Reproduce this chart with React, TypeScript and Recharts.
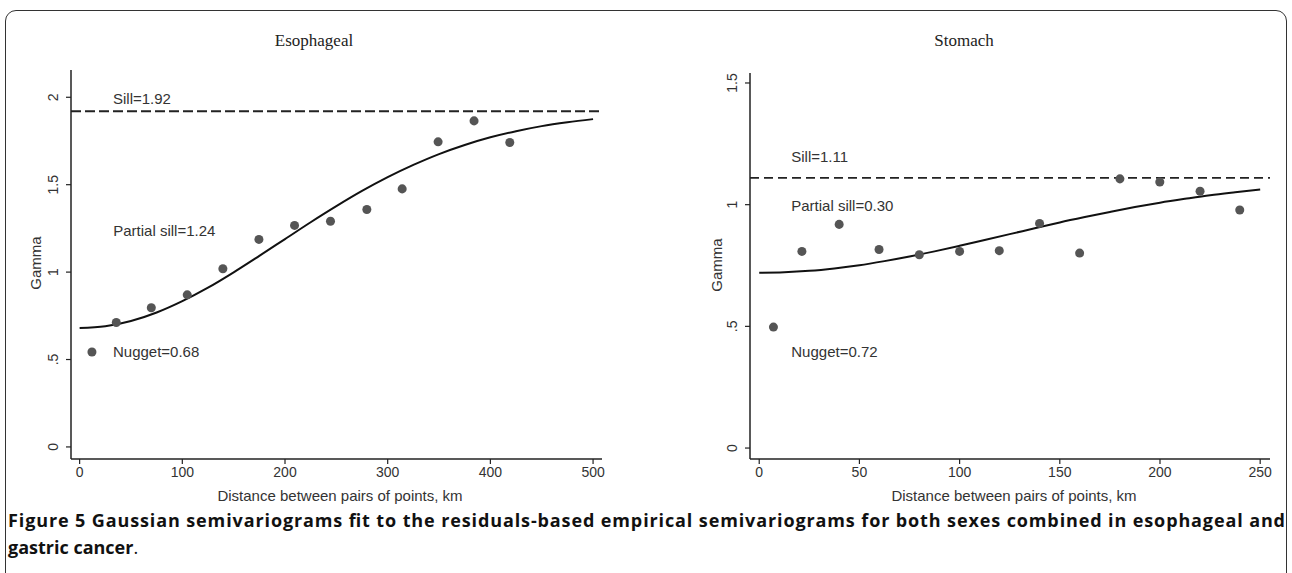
import React from 'react';
import {
  ComposedChart,
  Scatter,
  Line,
  XAxis,
  YAxis,
  ReferenceLine,
  ReferenceDot,
} from 'recharts';

// ---------- data ----------
// Esophageal: empirical semivariogram (lag km, gamma)
const esoLag = [12, 35.7, 69.8, 104.8, 139.5, 174.6, 209.3, 244.3, 279.7, 314.1, 349.1, 384.1, 418.9];
const esoGamma = [0.543, 0.712, 0.796, 0.87, 1.019, 1.187, 1.267, 1.291, 1.358, 1.476, 1.745, 1.865, 1.741];
// Esophageal: fitted Gaussian curve, read at 25 km steps
const esoFitLag = [0, 25, 50, 75, 100, 125, 150, 175, 200, 225, 250, 275, 300, 325, 350, 375, 400, 425, 450, 475, 500];
const esoFitGamma = [0.68, 0.69, 0.72, 0.769, 0.834, 0.911, 0.999, 1.093, 1.189, 1.285, 1.377, 1.464, 1.543, 1.613, 1.675, 1.727, 1.771, 1.806, 1.835, 1.857, 1.875];
const esoSill = 1.92;

// Stomach
const stoLag = [7.1, 21.3, 39.9, 59.8, 79.9, 100, 119.8, 139.9, 159.9, 180, 199.9, 220, 239.8];
const stoGamma = [0.497, 0.808, 0.919, 0.816, 0.794, 0.808, 0.811, 0.923, 0.801, 1.106, 1.093, 1.055, 0.978];
const stoFitLag = [0, 12.5, 25, 37.5, 50, 62.5, 75, 87.5, 100, 112.5, 125, 137.5, 150, 162.5, 175, 187.5, 200, 212.5, 225, 237.5, 250];
const stoFitGamma = [0.72, 0.722, 0.728, 0.738, 0.751, 0.768, 0.787, 0.808, 0.831, 0.855, 0.879, 0.903, 0.927, 0.949, 0.97, 0.99, 1.008, 1.024, 1.039, 1.051, 1.062];
const stoSill = 1.11;

// tick values
const esoXTicks = [0, 100, 200, 300, 400, 500];
const esoYTicks = [0, 0.5, 1, 1.5, 2];
const stoXTicks = [0, 50, 100, 150, 200, 250];
const stoYTicks = [0, 0.5, 1, 1.5];

// annotation texts with their anchor (lag, gamma)
const esoNoteText = ['Sill=1.92', 'Partial sill=1.24', 'Nugget=0.68'];
const esoNoteLag = [31.5, 31.8, 31.5];
const esoNoteGamma = [1.99, 1.236, 0.543];
const stoNoteText = ['Sill=1.11', 'Partial sill=0.30', 'Nugget=0.72'];
const stoNoteLag = [15.5, 15.5, 15.5];
const stoNoteGamma = [1.198, 0.997, 0.395];

const zip = (xs: number[], ys: number[]) => xs.map((h, i) => ({ h, g: ys[i] }));

const SANS = '"Liberation Sans", Arial, sans-serif';
const SERIF = '"Liberation Serif", "Times New Roman", serif';
const TXT = '#333';

const fmtY = (v: number) => (v === 0 ? '0' : v < 1 ? '.5' : String(v));

const YTick = (props: any) => {
  const { x, y, payload } = props;
  return (
    <text
      x={x}
      y={y}
      transform={`rotate(-90 ${x} ${y})`}
      textAnchor="middle"
      fontSize={14}
      fontFamily={SANS}
      fill={TXT}
    >
      {fmtY(payload.value)}
    </text>
  );
};

type PanelProps = {
  pts: { h: number; g: number }[];
  fit: { h: number; g: number }[];
  sill: number;
  xDomain: [number, number];
  yDomain: [number, number];
  xTicks: number[];
  yTicks: number[];
  margin: { top: number; right: number; bottom: number; left: number };
  notes: { text: string; h: number; g: number }[];
  dashWidth: number;
  dash: string;
};

const Panel = (p: PanelProps) => (
  <ComposedChart width={646} height={510} margin={p.margin}>
    <XAxis
      type="number"
      dataKey="h"
      domain={p.xDomain}
      allowDataOverflow
      ticks={p.xTicks}
      tickSize={5}
      tickMargin={3}
      axisLine={{ stroke: '#222', strokeWidth: 1.5 }}
      tickLine={{ stroke: '#222', strokeWidth: 1.2 }}
      tick={{ fontSize: 14, fontFamily: SANS, fill: TXT }}
      height={40}
    />
    <YAxis
      type="number"
      dataKey="g"
      domain={p.yDomain}
      allowDataOverflow
      ticks={p.yTicks}
      tickSize={5}
      tickMargin={8}
      axisLine={{ stroke: '#222', strokeWidth: 1.5 }}
      tickLine={{ stroke: '#222', strokeWidth: 1.2 }}
      tick={<YTick />}
      width={40}
    />
    <ReferenceLine
      y={p.sill}
      stroke="#222"
      strokeWidth={p.dashWidth}
      strokeDasharray={p.dash}
    />
    <Line
      data={p.fit}
      dataKey="g"
      type="monotone"
      stroke="#111"
      strokeWidth={2}
      dot={false}
      isAnimationActive={false}
    />
    <Scatter data={p.pts} dataKey="g" fill="#555" isAnimationActive={false} />
    {p.notes.map((n, i) => (
      <ReferenceDot
        key={i}
        x={n.h}
        y={n.g}
        r={1}
        fill="none"
        stroke="none"
        label={{
          value: n.text,
          position: 'right',
          offset: 0,
          fontSize: 15,
          fontFamily: SANS,
          fill: TXT,
        }}
      />
    ))}
  </ComposedChart>
);

const abs = (x: number, y: number, extra: React.CSSProperties = {}): React.CSSProperties => ({
  position: 'absolute',
  left: x,
  top: y,
  transform: 'translate(-50%, -50%)',
  whiteSpace: 'nowrap',
  color: TXT,
  fontFamily: SANS,
  fontSize: 15,
  lineHeight: 1,
  ...extra,
});

export default function App() {
  const esoPts = zip(esoLag, esoGamma);
  const esoFit = zip(esoFitLag, esoFitGamma);
  const stoPts = zip(stoLag, stoGamma);
  const stoFit = zip(stoFitLag, stoFitGamma);
  const esoNotes = esoNoteText.map((text, i) => ({ text, h: esoNoteLag[i], g: esoNoteGamma[i] }));
  const stoNotes = stoNoteText.map((text, i) => ({ text, h: stoNoteLag[i], g: stoNoteGamma[i] }));

  return (
    <div
      style={{
        position: 'absolute',
        left: 0,
        top: 0,
        width: 1292,
        height: 573,
        overflow: 'hidden',
        background: '#fff',
      }}
    >
      <div
        style={{
          position: 'absolute',
          left: 5,
          top: 10,
          width: 1282,
          height: 620,
          border: '1.6px solid #333',
          borderRadius: 11,
          boxSizing: 'border-box',
        }}
      />
      <div style={{ position: 'absolute', left: 0, top: 0 }}>
        <Panel
          pts={esoPts}
          fit={esoFit}
          sill={esoSill}
          xDomain={[-8.4, 508.7]}
          yDomain={[-0.069, 2.156]}
          xTicks={esoXTicks}
          yTicks={esoYTicks}
          margin={{ top: 70, right: 44, bottom: 11, left: 31 }}
          notes={esoNotes}
          dashWidth={2.2}
          dash="10 4"
        />
      </div>
      <div style={{ position: 'absolute', left: 646, top: 0 }}>
        <Panel
          pts={stoPts}
          fit={stoFit}
          sill={stoSill}
          xDomain={[-4.6, 254.9]}
          yDomain={[-0.045, 1.541]}
          xTicks={stoXTicks}
          yTicks={stoYTicks}
          margin={{ top: 73, right: 22, bottom: 11, left: 64 }}
          notes={stoNotes}
          dashWidth={1.6}
          dash="9 5"
        />
      </div>

      <div style={abs(314, 40, { fontFamily: SERIF, fontSize: 17, color: '#222' })}>Esophageal</div>
      <div style={abs(964, 40, { fontFamily: SERIF, fontSize: 17, color: '#222' })}>Stomach</div>

      <div style={abs(35, 263, { transform: 'translate(-50%, -50%) rotate(-90deg)' })}>Gamma</div>
      <div style={abs(716, 265, { transform: 'translate(-50%, -50%) rotate(-90deg)' })}>Gamma</div>

      <div style={abs(340, 495)}>Distance between pairs of points, km</div>
      <div style={abs(1014, 495)}>Distance between pairs of points, km</div>

      <svg
        width={1292}
        height={70}
        style={{ position: 'absolute', left: 0, top: 503 }}
      >
        <text
          x={8}
          y={24}
          fontFamily='"Open Sans", "Noto Sans", sans-serif'
          fontWeight="bold"
          fontSize={18}
          fill="#111"
          textLength={1277}
          lengthAdjust="spacing"
        >
          Figure 5 Gaussian semivariograms fit to the residuals-based empirical semivariograms for both sexes combined in esophageal and
        </text>
        <text
          x={8}
          y={51}
          fontFamily='"Open Sans", "Noto Sans", sans-serif'
          fontSize={18}
          fill="#111"
        >
          <tspan fontWeight="bold">gastric cancer</tspan>
          <tspan>.</tspan>
        </text>
      </svg>
    </div>
  );
}
